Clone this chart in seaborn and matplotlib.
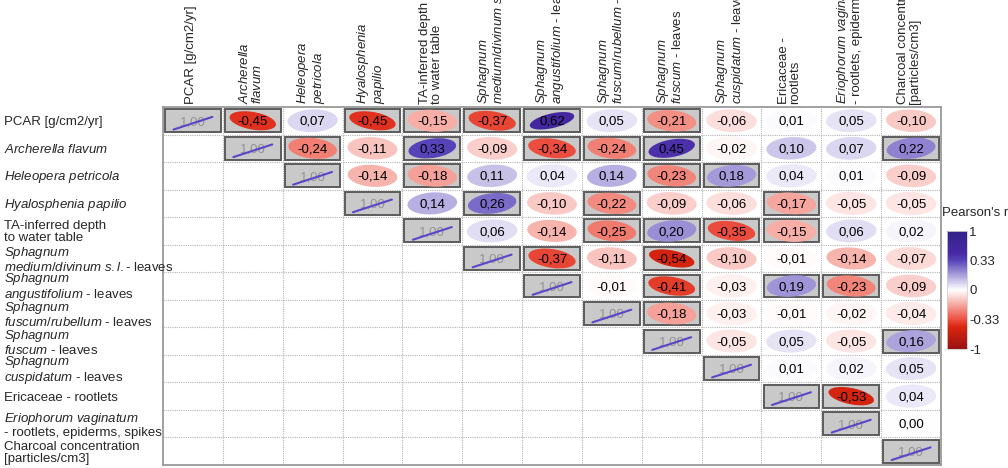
import numpy as np
import matplotlib
matplotlib.use("Agg")
import matplotlib.pyplot as plt
import matplotlib.colors as mcolors
from matplotlib.patches import Rectangle, Polygon
from matplotlib.transforms import blended_transform_factory
import seaborn as sns

# ---------------------------------------------------------------- data
row_labels = [
    "PCAR [g/cm2/yr]",
    r"$Archerella\ flavum$",
    r"$Heleopera\ petricola$",
    r"$Hyalosphenia\ papilio$",
    "TA-inferred depth\nto water table",
    "$Sphagnum$\n$medium/divinum\\ s.l.$- leaves",
    "$Sphagnum$\n$angustifolium$ - leaves",
    "$Sphagnum$\n$fuscum/rubellum$ - leaves",
    "$Sphagnum$\n$fuscum$ - leaves",
    "$Sphagnum$\n$cuspidatum$ - leaves",
    "Ericaceae - rootlets",
    "$Eriophorum\\ vaginatum$\n- rootlets, epiderms, spikes",
    "Charcoal concentration\n[particles/cm3]",
]

col_labels = [
    "PCAR [g/cm2/yr]",
    "$Archerella$\n$flavum$",
    "$Heleopera$\n$petricola$",
    "$Hyalosphenia$\n$papilio$",
    "TA-inferred depth\nto water table",
    "$Sphagnum$\n$medium/divinum\\ s.l.$- leaves",
    "$Sphagnum$\n$angustifolium$ - leaves",
    "$Sphagnum$\n$fuscum/rubellum$ - leaves",
    "$Sphagnum$\n$fuscum$ - leaves",
    "$Sphagnum$\n$cuspidatum$ - leaves",
    "Ericaceae -\nrootlets",
    "$Eriophorum\\ vaginatum$\n- rootlets, epiderms, spikes",
    "Charcoal concentration\n[particles/cm3]",
]

# upper triangle of Pearson's r; row i starts at column i
r_upper = [
    [1.00, -0.45, 0.07, -0.45, -0.15, -0.37, 0.62, 0.05, -0.21, -0.06, 0.01, 0.05, -0.10],
    [1.00, -0.24, -0.11, 0.33, -0.09, -0.34, -0.24, 0.45, -0.02, 0.10, 0.07, 0.22],
    [1.00, -0.14, -0.18, 0.11, 0.04, 0.14, -0.23, 0.18, 0.04, 0.01, -0.09],
    [1.00, 0.14, 0.26, -0.10, -0.22, -0.09, -0.06, -0.17, -0.05, -0.05],
    [1.00, 0.06, -0.14, -0.25, 0.20, -0.35, -0.15, 0.06, 0.02],
    [1.00, -0.37, -0.11, -0.54, -0.10, -0.01, -0.14, -0.07],
    [1.00, -0.01, -0.41, -0.03, 0.19, -0.23, -0.09],
    [1.00, -0.18, -0.03, -0.01, -0.02, -0.04],
    [1.00, -0.05, 0.05, -0.05, 0.16],
    [1.00, 0.01, 0.02, 0.05],
    [1.00, -0.53, 0.04],
    [1.00, 0.00],
    [1.00],
]

# (row, column) pairs with significant correlation
significant = [
    (0, 1), (0, 3), (0, 4), (0, 5), (0, 6), (0, 8),
    (1, 2), (1, 4), (1, 6), (1, 7), (1, 8), (1, 12),
    (2, 4), (2, 8), (2, 9),
    (3, 5), (3, 7), (3, 10),
    (4, 7), (4, 8), (4, 9), (4, 10),
    (5, 6), (5, 8),
    (6, 8), (6, 10), (6, 11),
    (7, 8), (8, 12), (10, 11),
]

cbar_ticks = [-1, -0.33, 0, 0.33, 1]
cbar_ticklabels = ["-1", "-0.33", "0", "0.33", "1"]

# ---------------------------------------------------------------- style
sns.set_theme(style="white")
plt.rcParams["font.family"] = ["Liberation Sans", "DejaVu Sans"]
plt.rcParams["mathtext.fontset"] = "custom"
plt.rcParams["mathtext.rm"] = "Liberation Sans"
plt.rcParams["mathtext.it"] = "Liberation Sans:italic"
plt.rcParams["mathtext.default"] = "it"

FS = 9.5
n = len(row_labels)
corr = np.full((n, n), np.nan)
for i, row in enumerate(r_upper):
    corr[i, i:] = row

# colour scale: ticks spaced evenly on the bar
tick_pos = [0, 0.25, 0.5, 0.75, 1]
def fwd(x):
    return np.interp(x, cbar_ticks, tick_pos)
def inv(y):
    return np.interp(y, tick_pos, cbar_ticks)
norm = mcolors.FuncNorm((fwd, inv), vmin=-1, vmax=1)

node_vals = [-1, -0.5, -0.33, 0, 0.33, 0.5, 1]
node_cols = ["#9b1212", "#da260f", "#ec5041", "#ffffff", "#5844b9", "#4828a5", "#322387"]
cmap = mcolors.LinearSegmentedColormap.from_list(
    "pearson", list(zip([float(fwd(v)) for v in node_vals], node_cols)))

# ---------------------------------------------------------------- figure
W, H = 1008, 468
ax_l, ax_r, ax_t, ax_b = 163, 941, 107, 465
fig = plt.figure(figsize=(W / 100, H / 100), dpi=100)
ax = fig.add_axes([ax_l / W, 1 - ax_b / H, (ax_r - ax_l) / W, (ax_b - ax_t) / H])
cw = (ax_r - ax_l) / n      # cell width in pixels
ch = (ax_b - ax_t) / n      # cell height in pixels

base = np.zeros((n, n))
sns.heatmap(base, ax=ax, cmap=mcolors.ListedColormap(["white"]), vmin=0, vmax=1,
            cbar=False, xticklabels=False, yticklabels=False)
ax.set_xlim(0, n)
ax.set_ylim(n, 0)
for s in ax.spines.values():
    s.set_visible(True)
    s.set_color("#9a9a9a")
    s.set_linewidth(1.3)

# dotted cell grid
for k in range(1, n):
    ax.axhline(k, color="#b4b4b4", lw=0.8, ls=(0, (1, 1)), zorder=1)
    ax.axvline(k, color="#b4b4b4", lw=0.8, ls=(0, (1, 1)), zorder=1)

mx, my = 0.035, 0.085
t = np.linspace(0, 2 * np.pi, 120)
sig_set = set(significant)


def ellipse_points(cx, cy, r):
    """Ellipse outline for coefficient r, sized in pixels then mapped to data."""
    a = 25.5 - 4.5 * abs(r)
    b = 11.8 * np.sqrt(max(1 - abs(r), 0))
    th = np.deg2rad(19.0 * np.sign(r) * abs(r) ** 0.8)
    X = a * np.cos(t) * np.cos(th) - b * np.sin(t) * np.sin(th)
    Y = a * np.cos(t) * np.sin(th) + b * np.sin(t) * np.cos(th)
    return np.column_stack([cx + X / cw, cy - Y / ch])


for i in range(n):
    for j in range(i, n):
        r = corr[i, j]
        cx, cy = j + 0.5, i + 0.5
        if i == j or (i, j) in sig_set:
            ax.add_patch(Rectangle((j + mx, i + my), 1 - 2 * mx, 1 - 2 * my,
                                   facecolor="#c9c9c9", edgecolor="#5c5c5c",
                                   lw=1.4, zorder=2))
        if i == j:
            ax.text(cx, cy + 0.05, "1,00", ha="center", va="center",
                    fontsize=FS, color="#939393", zorder=4)
            ax.plot([cx - 0.325, cx + 0.325], [cy + 0.32, cy - 0.14],
                    color="#5a46c8", lw=1.5, solid_capstyle="round", zorder=5)
            continue
        ax.add_patch(Polygon(ellipse_points(cx, cy, r), closed=True,
                             facecolor=cmap(norm(r)), edgecolor="none", zorder=3))
        ax.text(cx, cy + 0.04, f"{r:.2f}".replace(".", ","), ha="center",
                va="center", fontsize=FS, color="black", zorder=4)

# row labels at the left edge of the figure
trans_row = blended_transform_factory(fig.transFigure, ax.transData)
for i, lab in enumerate(row_labels):
    ax.text(4 / W, i + 0.55, lab, transform=trans_row, ha="left",
            va="center", fontsize=FS, linespacing=1.0, clip_on=False)

# rotated column labels above the grid
trans_col = blended_transform_factory(ax.transData, ax.transAxes)
for j, lab in enumerate(col_labels):
    ax.text(j + 0.47, 1 + 3 / (ax_b - ax_t), lab, transform=trans_col, rotation=90,
            ha="center", va="bottom", multialignment="left", fontsize=FS,
            linespacing=1.0, clip_on=False)

# colour bar
cax = fig.add_axes([947 / W, 1 - 349 / H, 20 / W, 118 / H])
sm = matplotlib.cm.ScalarMappable(norm=norm, cmap=cmap)
cb = fig.colorbar(sm, cax=cax, ticks=cbar_ticks)
cb.ax.set_yticklabels(cbar_ticklabels)
cb.ax.tick_params(length=0, pad=1.5, labelsize=FS)
cb.outline.set_edgecolor("#d0d0d0")
cb.outline.set_linewidth(0.6)
fig.text(942 / W, 1 - 213 / H, "Pearson's r", ha="left", va="center",
         fontsize=FS)

fig.savefig("out.png", dpi=100)
